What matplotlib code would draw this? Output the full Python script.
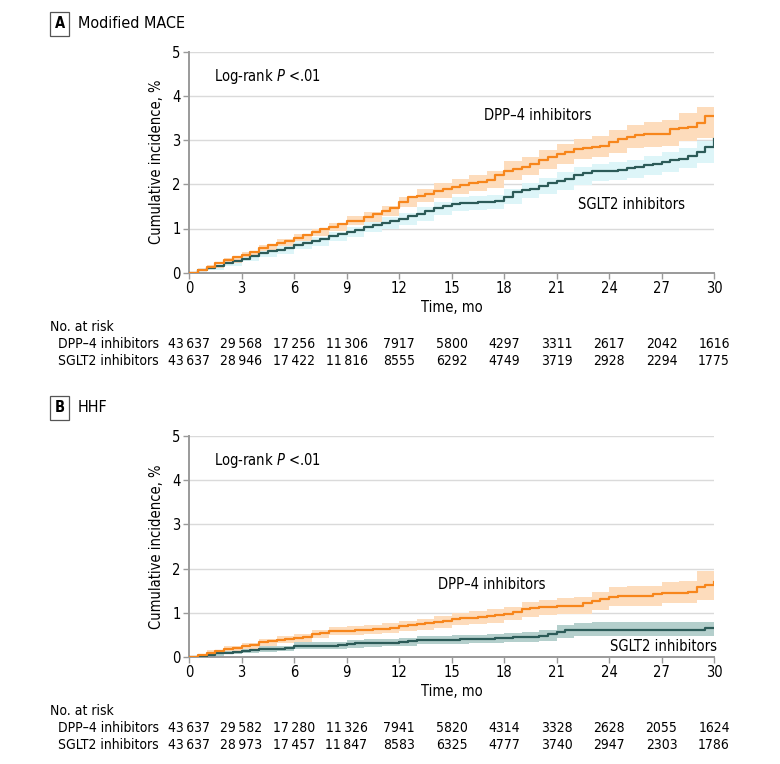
import numpy as np
import matplotlib
matplotlib.use('Agg')
import matplotlib.pyplot as plt
from matplotlib import font_manager
from matplotlib.transforms import blended_transform_factory

# 窄体字体: 优先 DejaVu Sans Condensed
cond = [f for f in font_manager.fontManager.ttflist if 'Condensed' in f.fname and 'DejaVuSans' in f.fname]
if cond:
    plt.rcParams['font.family'] = ['DejaVu Sans']
    plt.rcParams['font.stretch'] = 'condensed'
else:
    plt.rcParams['font.family'] = ['Liberation Sans', 'DejaVu Sans']
plt.rcParams['mathtext.fontset'] = 'custom'
plt.rcParams['mathtext.rm'] = plt.rcParams['font.family'][0]
plt.rcParams['mathtext.it'] = plt.rcParams['font.family'][0] + ':italic'

# 时间轴 (月)
t_line = np.arange(0, 30.5, 0.5)
t_band = np.arange(0, 31, 1)
x_ticks = [0, 3, 6, 9, 12, 15, 18, 21, 24, 27, 30]

# A: Modified MACE
a_dpp = [0, 0.07, 0.14, 0.21, 0.28, 0.35, 0.41, 0.47, 0.56, 0.63, 0.68, 0.72, 0.79, 0.85,
         0.91, 0.98, 1.04, 1.11, 1.17, 1.18, 1.26, 1.33, 1.40, 1.47, 1.60, 1.72, 1.74, 1.78,
         1.85, 1.90, 1.95, 1.99, 2.02, 2.05, 2.10, 2.22, 2.30, 2.35, 2.40, 2.47, 2.55, 2.62,
         2.68, 2.73, 2.80, 2.83, 2.85, 2.87, 2.95, 3.02, 3.08, 3.12, 3.13, 3.13, 3.14, 3.25,
         3.28, 3.30, 3.38, 3.55, 3.55]
a_dpp_hi = [0, 0.18, 0.34, 0.47, 0.63, 0.76, 0.87, 1.0, 1.13, 1.28, 1.37, 1.52, 1.72, 1.90,
            2.02, 2.12, 2.20, 2.30, 2.52, 2.62, 2.78, 2.92, 3.02, 3.10, 3.22, 3.35, 3.42, 3.45,
            3.62, 3.75, 4.0]
a_dpp_lo = [0, 0.10, 0.23, 0.36, 0.49, 0.61, 0.71, 0.83, 0.95, 1.07, 1.15, 1.28, 1.48, 1.60,
            1.70, 1.78, 1.85, 1.92, 2.10, 2.20, 2.35, 2.45, 2.58, 2.62, 2.70, 2.82, 2.85, 2.87,
            2.98, 3.05, 3.10]
a_sglt = [0, 0.05, 0.10, 0.15, 0.21, 0.26, 0.32, 0.37, 0.44, 0.48, 0.51, 0.56, 0.62, 0.67,
          0.71, 0.76, 0.82, 0.88, 0.92, 0.97, 1.04, 1.08, 1.13, 1.18, 1.22, 1.28, 1.33, 1.39,
          1.46, 1.52, 1.56, 1.57, 1.58, 1.59, 1.60, 1.62, 1.72, 1.82, 1.86, 1.90, 1.96, 2.04,
          2.08, 2.12, 2.20, 2.26, 2.29, 2.30, 2.31, 2.32, 2.36, 2.40, 2.44, 2.46, 2.50, 2.55,
          2.58, 2.65, 2.72, 2.84, 3.02]
a_sglt_hi = [0, 0.14, 0.27, 0.39, 0.52, 0.60, 0.71, 0.81, 0.93, 1.04, 1.16, 1.26, 1.36, 1.48,
             1.60, 1.71, 1.74, 1.76, 1.90, 2.04, 2.15, 2.27, 2.40, 2.47, 2.50, 2.56, 2.64, 2.72,
             2.82, 2.98, 3.45]
a_sglt_lo = [0, 0.07, 0.16, 0.26, 0.36, 0.42, 0.53, 0.61, 0.71, 0.80, 0.92, 1.0, 1.08, 1.18,
             1.30, 1.40, 1.42, 1.44, 1.55, 1.68, 1.78, 1.88, 1.99, 2.07, 2.10, 2.15, 2.22, 2.28,
             2.36, 2.48, 2.62]
a_risk_dpp = ['43\u2009637', '29\u2009568', '17\u2009256', '11\u2009306', '7917', '5800', '4297',
              '3311', '2617', '2042', '1616']
a_risk_sglt = ['43\u2009637', '28\u2009946', '17\u2009422', '11\u2009816', '8555', '6292', '4749',
               '3719', '2928', '2294', '1775']

# B: HHF
b_dpp = [0, 0.05, 0.10, 0.14, 0.18, 0.21, 0.24, 0.28, 0.33, 0.36, 0.39, 0.41, 0.43, 0.46,
         0.51, 0.55, 0.58, 0.59, 0.59, 0.61, 0.62, 0.63, 0.64, 0.66, 0.70, 0.72, 0.74, 0.76,
         0.79, 0.82, 0.86, 0.88, 0.89, 0.91, 0.93, 0.96, 0.98, 1.02, 1.08, 1.10, 1.12, 1.13,
         1.15, 1.15, 1.16, 1.22, 1.26, 1.31, 1.36, 1.37, 1.37, 1.37, 1.37, 1.43, 1.45, 1.45,
         1.45, 1.46, 1.58, 1.63, 1.70]
b_dpp_hi = [0, 0.15, 0.25, 0.31, 0.41, 0.47, 0.52, 0.60, 0.68, 0.70, 0.73, 0.76, 0.82, 0.87,
            0.92, 1.00, 1.04, 1.08, 1.14, 1.25, 1.30, 1.33, 1.35, 1.47, 1.58, 1.60, 1.61, 1.70,
            1.71, 1.95, 2.12]
b_dpp_lo = [0, 0.06, 0.13, 0.18, 0.26, 0.31, 0.35, 0.42, 0.49, 0.50, 0.52, 0.54, 0.59, 0.62,
            0.66, 0.73, 0.75, 0.78, 0.83, 0.91, 0.95, 0.97, 0.98, 1.07, 1.15, 1.16, 1.16, 1.22,
            1.22, 1.30, 1.36]
b_sglt = [0, 0.02, 0.05, 0.08, 0.10, 0.12, 0.14, 0.15, 0.17, 0.18, 0.19, 0.21, 0.25, 0.25,
          0.26, 0.26, 0.26, 0.27, 0.29, 0.31, 0.31, 0.32, 0.32, 0.32, 0.34, 0.37, 0.38, 0.38,
          0.38, 0.38, 0.39, 0.40, 0.40, 0.40, 0.41, 0.43, 0.44, 0.45, 0.45, 0.46, 0.48, 0.52,
          0.57, 0.60, 0.62, 0.62, 0.62, 0.62, 0.62, 0.62, 0.62, 0.62, 0.62, 0.62, 0.62, 0.62,
          0.62, 0.62, 0.62, 0.66, 0.66]
b_sglt_hi = [0, 0.08, 0.15, 0.20, 0.24, 0.26, 0.33, 0.34, 0.34, 0.38, 0.40, 0.41, 0.44, 0.48,
             0.48, 0.49, 0.50, 0.52, 0.55, 0.57, 0.60, 0.72, 0.78, 0.79, 0.79, 0.79, 0.79, 0.79,
             0.79, 0.80, 0.88]
b_sglt_lo = [0, 0.02, 0.06, 0.09, 0.11, 0.13, 0.18, 0.19, 0.19, 0.21, 0.23, 0.24, 0.26, 0.29,
             0.29, 0.30, 0.31, 0.32, 0.34, 0.35, 0.37, 0.44, 0.47, 0.47, 0.47, 0.47, 0.47, 0.47,
             0.47, 0.48, 0.49]
b_risk_dpp = ['43\u2009637', '29\u2009582', '17\u2009280', '11\u2009326', '7941', '5820', '4314',
              '3328', '2628', '2055', '1624']
b_risk_sglt = ['43\u2009637', '28\u2009973', '17\u2009457', '11\u2009847', '8583', '6325', '4777',
               '3740', '2947', '2303', '1786']

ORANGE = '#F7861C'
ORANGE_BAND = '#FDDCBC'
TEAL = '#2C5B58'
GRID = '#DADADA'
SPINE = '#9A9A9A'
FS = 10.5
FS_TAB = 10

fig = plt.figure(figsize=(7.8, 7.64), dpi=100)
W, H = 780, 764


def panel(top_px, letter, title, dpp, dpp_lo, dpp_hi, sglt, sglt_lo, sglt_hi, sglt_band,
          risk_dpp, risk_sglt, dpp_lab, sglt_lab):
    ax = fig.add_axes([189 / W, 1 - (top_px + 221) / H, 525 / W, 221 / H])
    ax.fill_between(t_band, dpp_lo, dpp_hi, step='post', color=ORANGE_BAND, lw=0, zorder=2)
    ax.fill_between(t_band, sglt_lo, sglt_hi, step='post', color=sglt_band, lw=0, zorder=1)
    ax.plot(t_line, sglt, drawstyle='steps-post', color=TEAL, lw=1.6, zorder=3)
    ax.plot(t_line, dpp, drawstyle='steps-post', color=ORANGE, lw=1.6, zorder=4)
    ax.set_xlim(0, 30)
    ax.set_ylim(0, 5)
    ax.set_xticks(x_ticks)
    ax.set_yticks(range(6))
    ax.grid(axis='y', color=GRID, lw=1.0, zorder=0)
    ax.set_axisbelow(True)
    for s in ['top', 'right']:
        ax.spines[s].set_visible(False)
    for s in ['left', 'bottom']:
        ax.spines[s].set_color(SPINE)
        ax.spines[s].set_linewidth(1.4)
    ax.tick_params(colors=SPINE, labelcolor='black', labelsize=FS, length=4, width=1, pad=2)
    ax.set_xlabel('Time, mo', fontsize=FS, labelpad=3)
    ax.set_ylabel('Cumulative incidence, %', fontsize=FS, labelpad=6)
    ax.text(1.43, 4.45, 'Log-rank $P$ <.01', fontsize=FS, va='center', ha='left')
    ax.text(dpp_lab[0], dpp_lab[1], 'DPP–4 inhibitors', fontsize=FS, ha='center', va='center')
    ax.text(sglt_lab[0], sglt_lab[1], 'SGLT2 inhibitors', fontsize=FS, ha='center', va='center')

    # 面板标题
    ty = 1 - (top_px - 28) / H
    fig.text(59.5 / W, ty, letter, fontsize=FS, fontweight='bold', ha='center', va='center',
             bbox=dict(boxstyle='square,pad=0.3', fc='white', ec='#555555', lw=0.9))
    fig.text(78 / W, ty, title, fontsize=11.5, ha='left', va='center')

    # 风险人数表
    tr = blended_transform_factory(ax.transData, ax.transAxes)
    tra = ax.transAxes
    ax.text((50 - 189) / 525, -54 / 221, 'No. at risk', transform=tra, fontsize=FS_TAB,
            ha='left', va='center')
    ax.text((58 - 189) / 525, -71 / 221, 'DPP–4 inhibitors', transform=tra, fontsize=FS_TAB,
            ha='left', va='center')
    ax.text((58 - 189) / 525, -88 / 221, 'SGLT2 inhibitors', transform=tra, fontsize=FS_TAB,
            ha='left', va='center')
    for x, n1, n2 in zip(x_ticks, risk_dpp, risk_sglt):
        ax.text(x, -71 / 221, n1, transform=tr, fontsize=FS_TAB, ha='center', va='center')
        ax.text(x, -88 / 221, n2, transform=tr, fontsize=FS_TAB, ha='center', va='center')
    return ax


panel(51.7, 'A', 'Modified MACE', a_dpp, a_dpp_lo, a_dpp_hi, a_sglt, a_sglt_lo, a_sglt_hi,
      '#DDF5F8', a_risk_dpp, a_risk_sglt, (19.9, 3.55), (25.3, 1.55))
panel(436, 'B', 'HHF', b_dpp, b_dpp_lo, b_dpp_hi, b_sglt, b_sglt_lo, b_sglt_hi,
      '#B4CFCC', b_risk_dpp, b_risk_sglt, (17.3, 1.63), (27.1, 0.23))

fig.savefig('out.png', dpi=100)
